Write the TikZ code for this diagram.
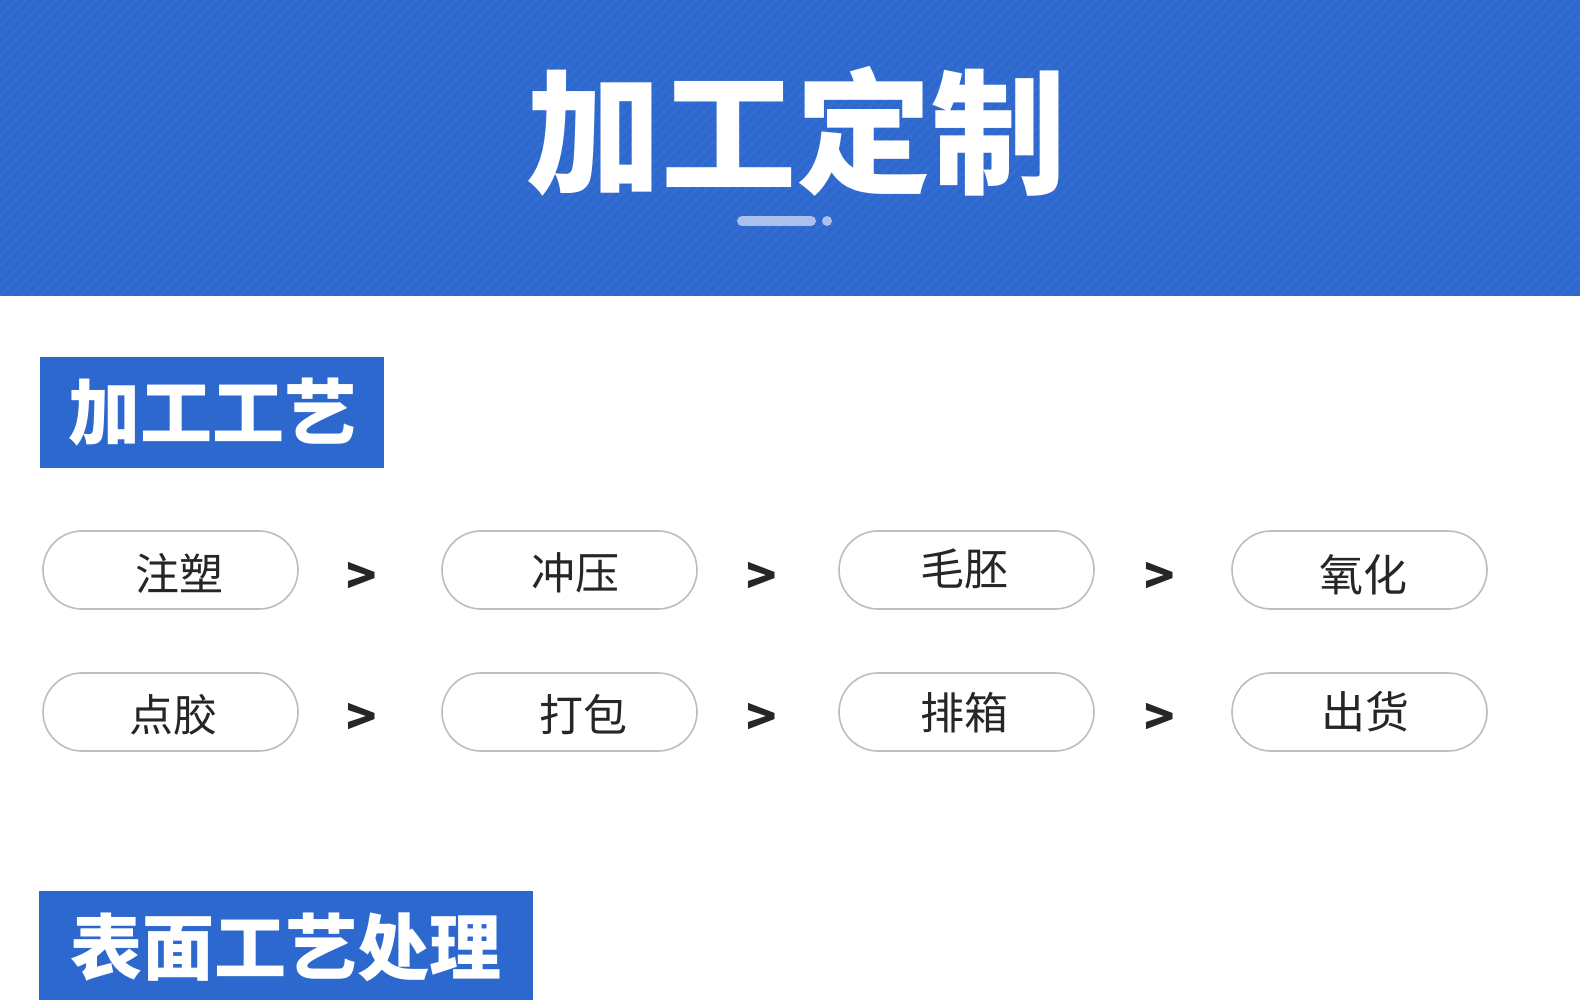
\documentclass[tikz,border=0pt]{standalone}
\usepackage{fontspec}
\usetikzlibrary{positioning}
\newfontfamily\cjk{Noto Sans CJK SC}
\definecolor{bannerblue}{HTML}{2D68CE}
\definecolor{barblue}{HTML}{AAC2EB}
\definecolor{pillgray}{HTML}{BDBDBD}
\definecolor{labelgray}{HTML}{262626}

\begin{document}
\begin{tikzpicture}[x=1pt,y=-1pt,
  pill/.style={draw=pillgray, line width=1.6pt, rounded corners=39pt, minimum width=255pt, minimum height=78pt, inner sep=0pt},
  steptext/.style={text=labelgray, font=\cjk\fontsize{44}{44}\selectfont, inner sep=0pt},
  gt/.style={text=labelgray, font=\cjk\bfseries\fontsize{50}{50}\selectfont, inner sep=0pt},
  heading/.style={fill=bannerblue, text=white, font=\cjk\bfseries\fontsize{72}{72}\selectfont, inner sep=0pt}]
\useasboundingbox (0,0) rectangle (1580,1000);
\fill[white] (0,0) rectangle (1580,1000);

%banner
\fill[bannerblue] (0,0) rectangle (1580,296);
\begin{scope}
\clip (0,0) rectangle (1580,296);
\foreach \s in {-300,-290,...,1580}
  \draw[white, opacity=0.035, line width=3pt] (\s,296) -- (\s+296,0);
\end{scope}
\node[text=white, font=\cjk\bfseries\fontsize{135}{135}\selectfont, inner sep=0pt] (title) at (796,131) {加工定制};
\draw[barblue, line width=10pt, line cap=round] (742,221) -- (811,221);
\fill[barblue] (827,221) circle [radius=5];

%section headings
\node[heading, minimum width=344pt, minimum height=111pt] (gongyi) at (212,412.5) {加工工艺};
\node[heading, minimum width=494pt, minimum height=112pt] (biaomian) at (286,947) {表面工艺处理};

%first row
\node[pill] (zhusu) at (170.5,570) {};
\node[pill] (chongya) at (569.5,570) {};
\node[pill] (maopi) at (966.5,570) {};
\node[pill] (yanghua) at (1359.5,570) {};
\node[steptext] (zhusu text) at (179,573) {注塑};
\node[steptext] (chongya text) at (575,573) {冲压};
\node[steptext] (maopi text) at (964,569) {毛胚};
\node[steptext] (yanghua text) at (1363,575) {氧化};
\node[gt] (gt1) at (362,578) {>};
\node[gt] (gt2) at (762,578) {>};
\node[gt] (gt3) at (1160,578) {>};

%second row
\node[pill] (dianjiao) at (170.5,712) {};
\node[pill] (dabao) at (569.5,712) {};
\node[pill] (paixiang) at (966.5,712) {};
\node[pill] (chuhuo) at (1359.5,712) {};
\node[steptext] (dianjiao text) at (173,715) {点胶};
\node[steptext] (dabao text) at (583,715) {打包};
\node[steptext] (paixiang text) at (964,713) {排箱};
\node[steptext] (chuhuo text) at (1365,712) {出货};
\node[gt] (gt4) at (362,719) {>};
\node[gt] (gt5) at (762,719) {>};
\node[gt] (gt6) at (1160,719) {>};
\end{tikzpicture}
\end{document}
